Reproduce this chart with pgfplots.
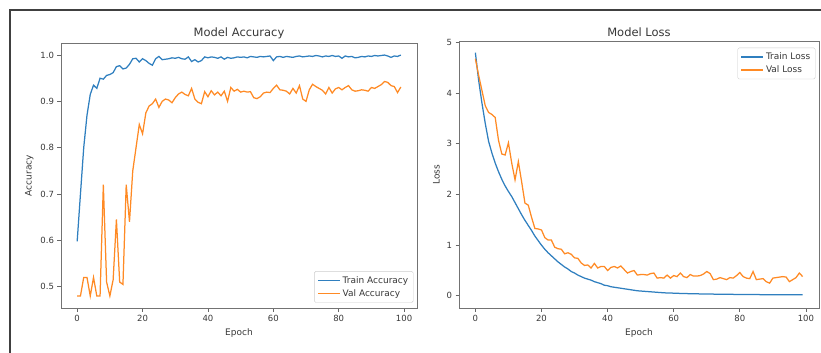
\documentclass[border=0pt]{standalone}
\usepackage{fontspec}
\setmainfont{DejaVu Sans}
\usepackage{pgfplots}
\pgfplotsset{compat=1.18}
\usepackage{pgfplotstable}
\definecolor{tabblue}{HTML}{2F7FBF}
\definecolor{taborange}{HTML}{FF8A24}
\definecolor{txt}{HTML}{383838}

\pgfplotstableread{
e ta va tl vl
0 0.598 0.48 4.80 4.68
1 0.700 0.48 4.25 4.35
2 0.800 0.52 3.80 4.05
3 0.870 0.52 3.40 3.75
4 0.915 0.48 3.05 3.62
5 0.935 0.52 2.82 3.58
6 0.928 0.48 2.62 3.52
7 0.950 0.48 2.45 3.07
8 0.948 0.72 2.30 2.80
9 0.956 0.51 2.17 2.78
10 0.958 0.48 2.06 3.02
11 0.962 0.515 1.96 2.62
12 0.975 0.645 1.84 2.29
13 0.977 0.51 1.72 2.65
14 0.970 0.505 1.60 2.25
15 0.972 0.72 1.49 1.83
16 0.980 0.64 1.39 1.79
17 0.992 0.75 1.29 1.55
18 0.993 0.80 1.18 1.33
19 0.985 0.85 1.09 1.32
20 0.992 0.83 1.00 1.30
21 0.988 0.875 0.92 1.15
22 0.982 0.89 0.85 1.10
23 0.978 0.895 0.79 1.10
24 0.992 0.905 0.73 0.96
25 0.997 0.887 0.67 0.93
26 0.990 0.900 0.62 0.92
27 0.991 0.905 0.57 0.83
28 0.992 0.903 0.53 0.85
29 0.994 0.897 0.48 0.82
30 0.993 0.908 0.45 0.75
31 0.995 0.916 0.41 0.74
32 0.992 0.920 0.38 0.65
33 0.991 0.915 0.35 0.60
34 0.996 0.912 0.33 0.61
35 0.986 0.928 0.31 0.55
36 0.990 0.905 0.28 0.64
37 0.985 0.898 0.26 0.55
38 0.988 0.895 0.24 0.58
39 0.996 0.921 0.21 0.58
40 0.994 0.910 0.20 0.50
41 0.996 0.923 0.18 0.56
42 0.995 0.914 0.17 0.58
43 0.993 0.920 0.16 0.55
44 0.996 0.912 0.15 0.59
45 0.991 0.922 0.14 0.52
46 0.995 0.900 0.13 0.45
47 0.993 0.930 0.12 0.48
48 0.994 0.922 0.11 0.50
49 0.996 0.926 0.10 0.41
50 0.995 0.920 0.095 0.42
51 0.996 0.922 0.090 0.42
52 0.994 0.920 0.085 0.41
53 0.997 0.921 0.080 0.44
54 0.996 0.908 0.075 0.45
55 0.995 0.906 0.070 0.35
56 0.997 0.910 0.065 0.36
57 0.996 0.918 0.060 0.35
58 0.997 0.920 0.057 0.41
59 0.998 0.919 0.055 0.35
60 0.988 0.928 0.053 0.40
61 0.996 0.935 0.050 0.38
62 0.997 0.925 0.048 0.45
63 0.995 0.924 0.046 0.38
64 0.997 0.922 0.044 0.36
65 0.996 0.916 0.043 0.42
66 0.995 0.928 0.041 0.39
67 0.997 0.918 0.040 0.39
68 0.998 0.934 0.038 0.40
69 0.996 0.905 0.037 0.43
70 0.997 0.900 0.036 0.48
71 0.998 0.925 0.035 0.44
72 0.997 0.937 0.034 0.32
73 0.999 0.932 0.033 0.33
74 0.998 0.928 0.032 0.36
75 0.996 0.924 0.031 0.34
76 0.998 0.916 0.030 0.32
77 0.997 0.930 0.030 0.36
78 0.999 0.918 0.029 0.35
79 0.997 0.927 0.028 0.40
80 0.998 0.930 0.028 0.46
81 0.993 0.925 0.027 0.38
82 0.998 0.930 0.026 0.35
83 0.996 0.934 0.026 0.34
84 0.997 0.925 0.025 0.48
85 0.994 0.922 0.025 0.32
86 0.995 0.923 0.024 0.33
87 0.997 0.925 0.024 0.34
88 0.996 0.924 0.023 0.28
89 0.998 0.922 0.023 0.25
90 0.997 0.930 0.022 0.35
91 0.999 0.928 0.022 0.36
92 0.998 0.932 0.022 0.37
93 0.999 0.936 0.021 0.38
94 1.000 0.943 0.021 0.37
95 0.998 0.941 0.021 0.28
96 0.995 0.934 0.020 0.32
97 0.998 0.932 0.020 0.36
98 0.997 0.919 0.020 0.45
99 1.000 0.931 0.020 0.38
}\hist

\pgfplotsset{
  myax/.style={
    scale only axis,
    anchor=north west,
    axis line style={draw=black!55, line width=0.9pt},
    tick align=outside,
    xtick pos=bottom, ytick pos=left,
    major tick length=3.5pt,
    every tick/.style={black!60, line width=0.7pt},
    tick label style={font=\fontsize{8.5}{10}\selectfont, text=txt},
    label style={font=\fontsize{9}{10}\selectfont, text=txt},
    title style={font=\fontsize{11.5}{13}\selectfont, text=txt, yshift=-5pt},
    /pgf/number format/assume math mode=true,
    xmin=-4.95, xmax=103.95,
    xtick={0,20,40,60,80,100},
    legend style={font=\fontsize{9}{10.5}\selectfont, text=txt, draw=black!20, rounded corners=1.5pt, inner sep=3pt, row sep=0.5pt},
    legend cell align=left,
    legend image code/.code={\draw[#1, line width=1.3pt] (0pt,0pt) -- (22pt,0pt);},
    every axis plot/.append style={line width=1.25pt},
  }
}

\begin{document}
\begin{tikzpicture}[x=1pt,y=1pt]
\useasboundingbox (0,0) rectangle (821,-353);
\draw[black!75, line width=1.1pt] (10,-353) -- (10,-10) -- (821,-10);

\begin{axis}[myax,
  at={(61pt,-43pt)}, width=356pt, height=265pt,
  ymin=0.454, ymax=1.026,
  ytick={0.5,0.6,0.7,0.8,0.9,1.0},
  yticklabel style={/pgf/number format/.cd, fixed, fixed zerofill, precision=1},
  title={Model Accuracy},
  xlabel={Epoch}, ylabel={Accuracy},
  legend style={at={(0.99,0.02)}, anchor=south east},
]
\addplot[tabblue, no marks] table[x=e, y=ta] {\hist};
\addlegendentry{Train Accuracy}
\addplot[taborange, no marks] table[x=e, y=va] {\hist};
\addlegendentry{Val Accuracy}
\end{axis}

\begin{axis}[myax,
  at={(459pt,-41pt)}, width=360pt, height=267pt,
  ymin=-0.24, ymax=5.03,
  ytick={0,1,2,3,4,5},
  title={Model Loss},
  xlabel={Epoch}, ylabel={Loss},
  legend style={at={(0.99,0.975)}, anchor=north east},
]
\addplot[tabblue, no marks] table[x=e, y=tl] {\hist};
\addlegendentry{Train Loss}
\addplot[taborange, no marks] table[x=e, y=vl] {\hist};
\addlegendentry{Val Loss}
\end{axis}
\end{tikzpicture}
\end{document}
